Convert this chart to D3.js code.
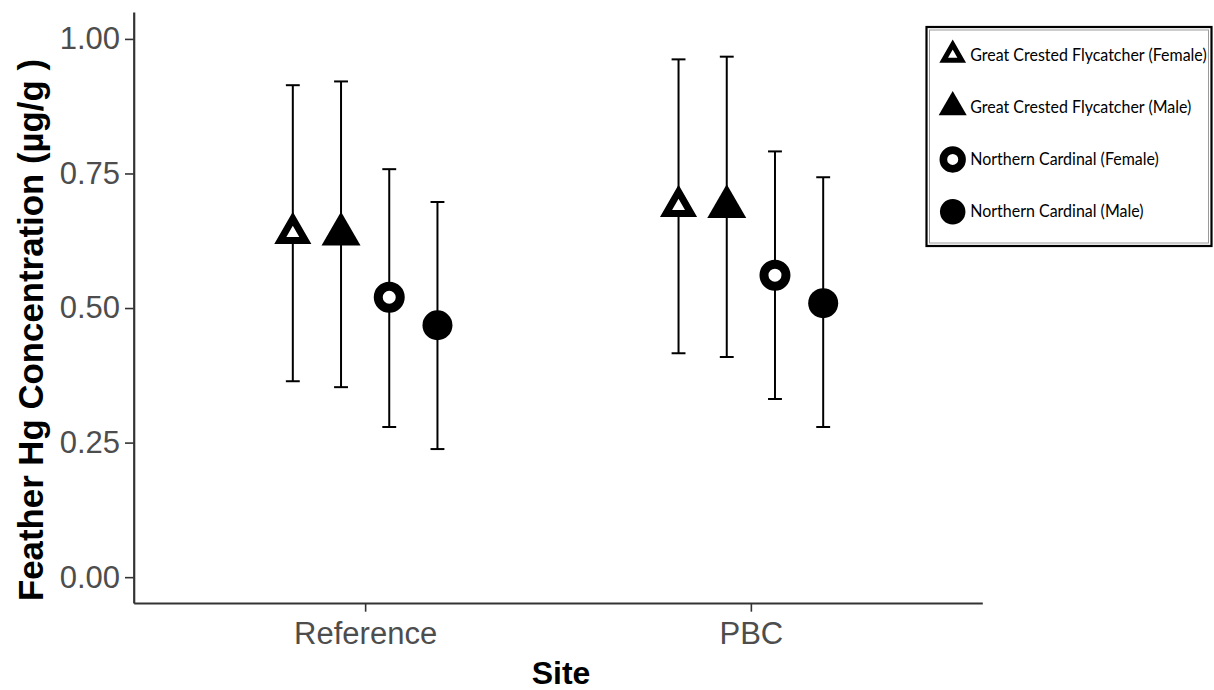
<!DOCTYPE html>
<html>
<head>
<meta charset="utf-8">
<script src="https://cdn.jsdelivr.net/npm/d3@7"></script>
<style>
  html, body { margin: 0; padding: 0; background: #ffffff; }
  svg { display: block; }
</style>
</head>
<body>
<svg id="chart" width="1214" height="690"></svg>
<script>
// Feather mercury concentration by site, species and sex (mean with error bars)
const sites = ["Reference", "PBC"];
const groups = [
  "Great Crested Flycatcher (Female)",
  "Great Crested Flycatcher (Male)",
  "Northern Cardinal (Female)",
  "Northern Cardinal (Male)"
];
const meanReference  = [0.639, 0.637, 0.520, 0.468];
const lowerReference = [0.364, 0.353, 0.279, 0.238];
const upperReference = [0.914, 0.921, 0.758, 0.697];
const meanPBC  = [0.689, 0.688, 0.561, 0.509];
const lowerPBC = [0.416, 0.409, 0.331, 0.279];
const upperPBC = [0.962, 0.967, 0.791, 0.743];
const yTicks = [0, 0.25, 0.5, 0.75, 1];
const yTitle = "Feather Hg Concentration (\u00b5g/g )";
const xTitle = "Site";

// marker style per group: triangle/circle, open/filled
const shapes = ["triangle", "triangle", "circle", "circle"];
const filled = [false, true, false, true];

const rows = [];
sites.forEach((site, si) => {
  const m = si === 0 ? meanReference : meanPBC;
  const lo = si === 0 ? lowerReference : lowerPBC;
  const hi = si === 0 ? upperReference : upperPBC;
  groups.forEach((g, gi) => {
    rows.push({ site: si + 1, group: g, gi: gi, mean: m[gi], lower: lo[gi], upper: hi[gi] });
  });
});

const svg = d3.select("#chart");
const panelLeft = 133.7, panelRight = 982.3, panelTop = 12, panelBottom = 603;

const x = d3.scaleLinear().domain([0.4, sites.length + 0.6]).range([panelLeft, panelRight]);
const dodge = d3.scaleBand().domain(groups).range([-0.25, 0.25]);
const y = d3.scaleLinear().domain([-0.048, 1.05]).range([panelBottom, panelTop]);

const xPos = d => x(d.site + dodge(d.group) + dodge.bandwidth() / 2);

// axes
const axisColor = "#333333";
const labelColor = "#4d4d4d";

const gy = svg.append("g")
  .attr("transform", `translate(${panelLeft},0)`)
  .call(d3.axisLeft(y).tickValues(yTicks).tickFormat(d3.format(".2f"))
    .tickSize(8.7).tickSizeOuter(0).tickPadding(5));
const gx = svg.append("g")
  .attr("transform", `translate(0,${panelBottom})`)
  .call(d3.axisBottom(x).tickValues(sites.map((s, i) => i + 1))
    .tickFormat(i => sites[i - 1]).tickSize(8.7).tickSizeOuter(0).tickPadding(10));

[gx, gy].forEach(g => {
  g.select(".domain").attr("stroke", axisColor).attr("stroke-width", 2.2);
  g.selectAll(".tick line").attr("stroke", axisColor).attr("stroke-width", 1.6);
  g.selectAll(".tick text")
    .attr("fill", labelColor)
    .style("font-family", "'Liberation Sans', Arial, sans-serif")
    .style("font-size", "31px");
});

// axis titles
svg.append("text")
  .attr("x", (panelLeft + panelRight) / 2 + 3)
  .attr("y", 684)
  .attr("text-anchor", "middle")
  .style("font-family", "'Liberation Sans', Arial, sans-serif")
  .style("font-weight", "bold")
  .style("font-size", "32px")
  .text(xTitle);

svg.append("text")
  .attr("transform", `translate(43,330) rotate(-90)`)
  .attr("text-anchor", "middle")
  .style("font-family", "'Liberation Sans', Arial, sans-serif")
  .style("font-weight", "bold")
  .style("font-size", "34.8px")
  .text(yTitle);

// error bars
const capHalf = 0.018;
const bars = svg.append("g").attr("stroke", "#000").attr("stroke-width", 2).attr("fill", "none");
rows.forEach(d => {
  const cx = xPos(d);
  const half = x(capHalf) - x(0);
  bars.append("line").attr("x1", cx).attr("x2", cx).attr("y1", y(d.lower)).attr("y2", y(d.upper));
  bars.append("line").attr("x1", cx - half).attr("x2", cx + half).attr("y1", y(d.lower)).attr("y2", y(d.lower));
  bars.append("line").attr("x1", cx - half).attr("x2", cx + half).attr("y1", y(d.upper)).attr("y2", y(d.upper));
});

// triangle path with centroid at origin
function triangle(s) {
  const h = s / Math.sqrt(3);
  return `M0,${-h}L${s / 2},${h / 2}L${-s / 2},${h / 2}Z`;
}

function drawMarker(g, gi, triScale, circScale) {
  if (shapes[gi] === "triangle") {
    if (filled[gi]) {
      g.append("path").attr("d", triangle(39 * triScale)).attr("fill", "#000");
    } else {
      g.append("path").attr("d", triangle(25 * triScale)).attr("fill", "#fff")
        .attr("stroke", "#000").attr("stroke-width", 7 * triScale).attr("stroke-linejoin", "miter");
    }
  } else {
    if (filled[gi]) {
      g.append("circle").attr("r", 15 * circScale).attr("fill", "#000");
    } else {
      g.append("circle").attr("r", 11 * circScale).attr("fill", "#fff")
        .attr("stroke", "#000").attr("stroke-width", 9 * circScale);
    }
  }
}

// points
rows.forEach(d => {
  const g = svg.append("g").attr("transform", `translate(${xPos(d)},${y(d.mean)})`);
  drawMarker(g, d.gi, 1, 1);
});

// legend
const legend = svg.append("g");
legend.append("rect").attr("x", 926.5).attr("y", 27).attr("width", 285).attr("height", 219)
  .attr("fill", "#fff").attr("stroke", "#000").attr("stroke-width", 2.2);
legend.append("rect").attr("x", 929.5).attr("y", 30).attr("width", 279).attr("height", 213)
  .attr("fill", "none").attr("stroke", "#9a9a9a").attr("stroke-width", 1);

const legendFont = 16.5;
const legendY = d3.scalePoint().domain(groups).range([55, 211.7]);
groups.forEach((g, gi) => {
  const item = legend.append("g").attr("transform", `translate(952.7,${legendY(g)})`);
  drawMarker(item, gi, 0.72, 0.85);
  item.append("text")
    .attr("x", 17.5)
    .attr("dy", "0.35em")
    .attr("fill", "#000")
    .style("font-family", "Lato, 'Open Sans', sans-serif")
    .style("font-size", legendFont + "px")
    .text(g);
});
// condense legend labels so the longest one spans the box width
const legendTexts = legend.selectAll("text").nodes();
const k = 236.5 / legendTexts[0].getComputedTextLength();
legendTexts.forEach(t => {
  const w = t.getComputedTextLength();
  d3.select(t).attr("textLength", w * k).attr("lengthAdjust", "spacingAndGlyphs");
});
</script>
</body>
</html>
